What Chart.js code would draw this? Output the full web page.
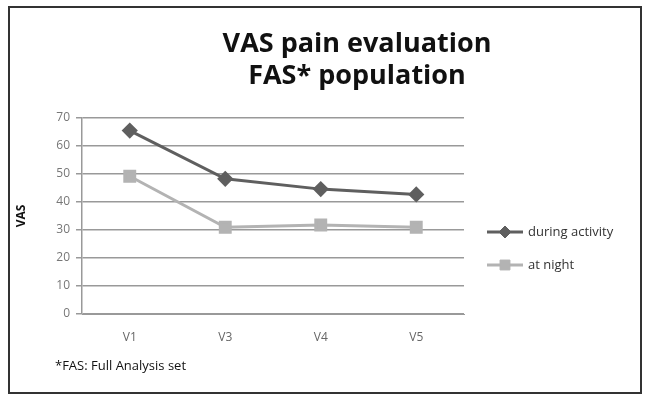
<!DOCTYPE html>
<html>
<head>
<meta charset="utf-8">
<script src="https://cdn.jsdelivr.net/npm/chart.js@4/dist/chart.umd.min.js"></script>
<style>
  body { margin: 0; background: #fff; }
  #box { position: absolute; left: 8px; top: 6px; width: 630px; height: 384px; border: 2px solid #333; }
  canvas { display: block; }
</style>
</head>
<body>
<div id="box"><canvas id="myChart" width="630" height="384"></canvas></div>
<script>
// visits and VAS values
const visits = ["V1", "V3", "V4", "V5"];
const duringActivity = [65.5, 48.3, 44.6, 42.7];
const atNight = [49.2, 31, 31.8, 31];
const yTicks = [0, 10, 20, 30, 40, 50, 60, 70];
const titleLines = ["VAS pain evaluation", "FAS* population"];
const footnote = "*FAS: Full Analysis set";

const darkGray = "#5f5f5f";
const lightGray = "#b3b3b3";

const textPlugin = {
  id: "textPlugin",
  afterDraw(chart) {
    const ctx = chart.ctx;
    ctx.save();
    // title
    ctx.fillStyle = "#111";
    ctx.font = "bold 27px 'Open Sans', sans-serif";
    ctx.textAlign = "center";
    ctx.textBaseline = "middle";
    ctx.fillText(titleLines[0], 347, 36);
    ctx.fillText(titleLines[1], 347, 68);
    // footnote
    ctx.font = "13px 'Open Sans', sans-serif";
    ctx.textAlign = "left";
    ctx.fillText(footnote, 45, 358);
    // legend
    chart.data.datasets.forEach((ds, i) => {
      const y = 224 + i * 33;
      ctx.strokeStyle = ds.borderColor;
      ctx.fillStyle = ds.borderColor;
      ctx.lineWidth = 3;
      ctx.beginPath();
      ctx.moveTo(477, y);
      ctx.lineTo(513, y);
      ctx.stroke();
      ctx.lineWidth = 1;
      Chart.helpers.drawPoint(ctx, {
        pointStyle: ds.pointStyle,
        radius: ds.pointRadius,
        rotation: 0,
        borderWidth: 1
      }, 495, y);
      ctx.fillStyle = "#333";
      ctx.font = "13px 'Open Sans', sans-serif";
      ctx.textBaseline = "middle";
      ctx.fillText(ds.label, 518, y);
    });
    ctx.restore();
  }
};

new Chart(document.getElementById("myChart"), {
  type: "line",
  data: {
    labels: visits,
    datasets: [
      {
        label: "during activity",
        data: duringActivity,
        borderColor: darkGray,
        backgroundColor: darkGray,
        borderWidth: 3,
        pointStyle: "rectRot",
        pointRadius: 6,
        pointBorderColor: darkGray,
        pointBackgroundColor: darkGray
      },
      {
        label: "at night",
        data: atNight,
        borderColor: lightGray,
        backgroundColor: lightGray,
        borderWidth: 3,
        pointStyle: "rect",
        pointRadius: 7,
        pointBorderColor: lightGray,
        pointBackgroundColor: lightGray
      }
    ]
  },
  options: {
    responsive: false,
    animation: false,
    layout: { padding: { top: 110, right: 176, bottom: 48, left: 0 } },
    plugins: {
      legend: { display: false },
      title: { display: false },
      tooltip: { enabled: false }
    },
    scales: {
      x: {
        offset: true,
        afterFit(scale) { scale.height = 30; },
        grid: { display: false, drawTicks: true },
        border: { color: "#999", width: 1 },
        ticks: { color: "#666", font: { size: 12, family: "'Open Sans', sans-serif" }, padding: 8 }
      },
      y: {
        min: 0,
        max: 70,
        afterFit(scale) { scale.width = 72; },
        afterBuildTicks(scale) { scale.ticks = yTicks.map(v => ({ value: v })); },
        grid: { color: "#999", lineWidth: 1.5, tickLength: 6 },
        border: { color: "#999", width: 1.5 },
        ticks: { color: "#777", font: { size: 12, family: "'Open Sans', sans-serif" }, padding: 6 },
        title: {
          display: true,
          text: "VAS",
          color: "#111",
          font: { size: 12, weight: "bold", family: "'Open Sans', sans-serif" },
          padding: { bottom: 8 }
        }
      }
    }
  },
  plugins: [textPlugin]
});
</script>
</body>
</html>
